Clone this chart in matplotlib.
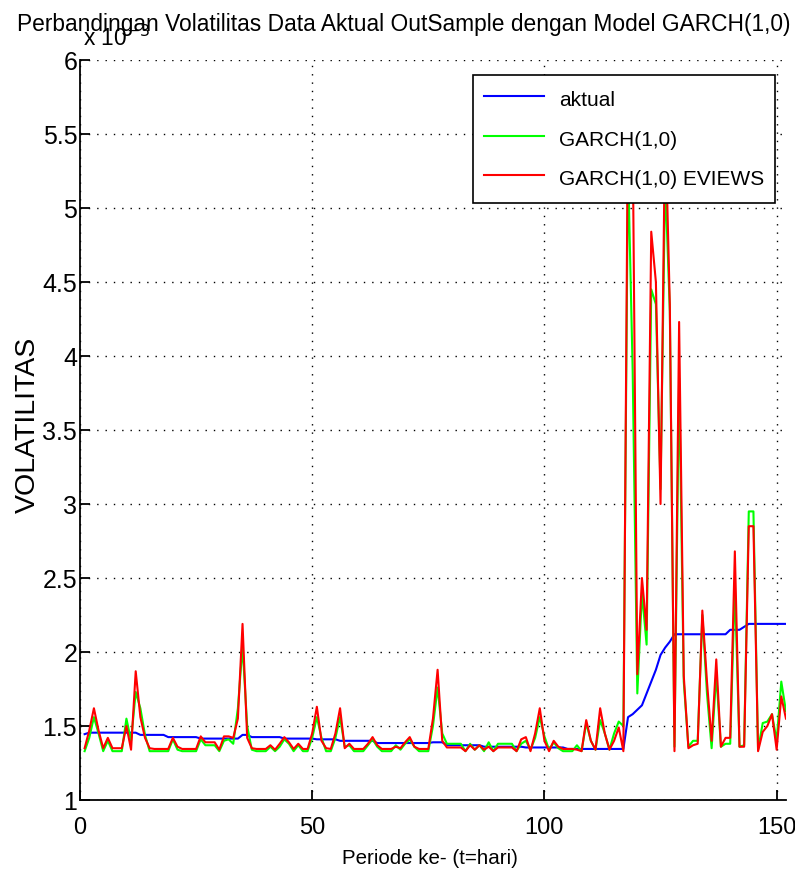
# Perbandingan volatilitas data aktual out-sample vs model GARCH(1,0)
import numpy as np
import matplotlib
matplotlib.use("Agg")
import matplotlib.pyplot as plt

# ------------------------------------------------------------
# Data (satuan x 10^-3)
# ------------------------------------------------------------
periode = np.arange(1, 153)

aktual = [
    1.445, 1.455, 1.455, 1.455, 1.455, 1.455, 1.455, 1.455, 1.455, 1.455,
    1.455, 1.455, 1.44, 1.44, 1.44, 1.44, 1.44, 1.44, 1.425, 1.425,
    1.425, 1.425, 1.425, 1.425, 1.425, 1.415, 1.415, 1.415, 1.415, 1.415,
    1.415, 1.415, 1.415, 1.415, 1.44, 1.44, 1.425, 1.425, 1.425, 1.425,
    1.425, 1.425, 1.425, 1.415, 1.415, 1.415, 1.415, 1.415, 1.415, 1.415,
    1.41, 1.41, 1.41, 1.41, 1.41, 1.40, 1.40, 1.40, 1.40, 1.40,
    1.40, 1.40, 1.40, 1.385, 1.385, 1.385, 1.385, 1.385, 1.385, 1.385,
    1.385, 1.385, 1.385, 1.385, 1.385, 1.39, 1.39, 1.39, 1.37, 1.37,
    1.37, 1.37, 1.37, 1.37, 1.37, 1.37, 1.36, 1.36, 1.36, 1.36,
    1.36, 1.36, 1.36, 1.36, 1.36, 1.355, 1.355, 1.355, 1.355, 1.355,
    1.355, 1.355, 1.355, 1.355, 1.345, 1.345, 1.345, 1.345, 1.345, 1.345,
    1.345, 1.345, 1.345, 1.345, 1.345, 1.345, 1.345, 1.56, 1.58, 1.61,
    1.64, 1.72, 1.80, 1.88, 1.98, 2.03, 2.07, 2.12, 2.12, 2.12,
    2.12, 2.12, 2.12, 2.12, 2.12, 2.12, 2.12, 2.12, 2.12, 2.15,
    2.15, 2.15, 2.17, 2.19, 2.19, 2.19, 2.19, 2.19, 2.19, 2.19,
    2.19, 2.19,
]

garch = [
    1.33, 1.42, 1.56, 1.45, 1.33, 1.40, 1.33, 1.33, 1.33, 1.55,
    1.40, 1.73, 1.62, 1.44, 1.33, 1.33, 1.33, 1.33, 1.33, 1.41,
    1.34, 1.33, 1.33, 1.33, 1.33, 1.41, 1.37, 1.37, 1.37, 1.33,
    1.40, 1.41, 1.38, 1.62, 2.04, 1.50, 1.34, 1.33, 1.33, 1.33,
    1.36, 1.33, 1.36, 1.41, 1.38, 1.33, 1.37, 1.33, 1.33, 1.42,
    1.56, 1.42, 1.33, 1.33, 1.42, 1.56, 1.36, 1.37, 1.33, 1.33,
    1.33, 1.37, 1.41, 1.36, 1.33, 1.33, 1.33, 1.37, 1.34, 1.38,
    1.41, 1.36, 1.33, 1.33, 1.33, 1.50, 1.76, 1.45, 1.38, 1.38,
    1.38, 1.38, 1.33, 1.38, 1.34, 1.37, 1.33, 1.39, 1.33, 1.38,
    1.38, 1.38, 1.38, 1.33, 1.38, 1.40, 1.34, 1.42, 1.56, 1.43,
    1.34, 1.39, 1.35, 1.33, 1.33, 1.33, 1.37, 1.33, 1.52, 1.40,
    1.34, 1.54, 1.45, 1.34, 1.45, 1.53, 1.50, 5.30, 3.90, 1.72,
    2.40, 2.05, 4.45, 4.35, 3.10, 5.20, 4.30, 1.36, 3.85, 1.80,
    1.36, 1.40, 1.40, 2.25, 1.72, 1.35, 1.85, 1.36, 1.38, 1.38,
    2.45, 1.36, 1.37, 2.95, 2.95, 1.34, 1.52, 1.53, 1.58, 1.40,
    1.80, 1.60,
]

eviews = [
    1.35, 1.47, 1.62, 1.47, 1.35, 1.42, 1.35, 1.35, 1.35, 1.50,
    1.34, 1.87, 1.56, 1.42, 1.35, 1.345, 1.345, 1.345, 1.345, 1.42,
    1.36, 1.345, 1.345, 1.345, 1.345, 1.43, 1.39, 1.39, 1.39, 1.34,
    1.43, 1.43, 1.42, 1.55, 2.19, 1.42, 1.35, 1.345, 1.345, 1.345,
    1.37, 1.34, 1.38, 1.425, 1.39, 1.345, 1.38, 1.345, 1.345, 1.45,
    1.63, 1.40, 1.35, 1.345, 1.45, 1.62, 1.35, 1.38, 1.345, 1.345,
    1.345, 1.38, 1.425, 1.37, 1.345, 1.345, 1.345, 1.36, 1.35, 1.39,
    1.425, 1.36, 1.345, 1.345, 1.345, 1.55, 1.88, 1.40, 1.355, 1.355,
    1.355, 1.355, 1.33, 1.37, 1.34, 1.37, 1.34, 1.36, 1.33, 1.355,
    1.355, 1.355, 1.355, 1.33, 1.41, 1.425, 1.33, 1.45, 1.62, 1.40,
    1.33, 1.40, 1.36, 1.345, 1.345, 1.345, 1.34, 1.33, 1.54, 1.40,
    1.34, 1.62, 1.45, 1.34, 1.40, 1.49, 1.33, 5.70, 5.50, 1.85,
    2.50, 2.15, 4.84, 4.50, 3.00, 5.60, 4.35, 1.33, 4.23, 1.84,
    1.35, 1.37, 1.38, 2.28, 1.80, 1.40, 1.95, 1.36, 1.42, 1.42,
    2.68, 1.36, 1.36, 2.85, 2.85, 1.33, 1.46, 1.50, 1.58, 1.34,
    1.70, 1.55,
]

# ------------------------------------------------------------
# Grafik
# ------------------------------------------------------------
plt.rcParams["font.family"] = ["Liberation Sans", "DejaVu Sans"]

fig = plt.figure(figsize=(7.95, 8.8), dpi=100)
ax = fig.add_axes([0.1006, 0.0909, 0.888, 0.8409])

ax.plot(periode, aktual, color=(0, 0, 1), lw=1.5, label="aktual")
ax.plot(periode, garch, color=(0, 1, 0), lw=1.5, label="GARCH(1,0)")
ax.plot(periode, eviews, color=(1, 0, 0), lw=1.5, label="GARCH(1,0) EVIEWS")

ax.set_xlim(0, 152)
ax.set_ylim(1, 6)
ax.set_xticks([0, 50, 100, 150])
ax.set_yticks([1, 1.5, 2, 2.5, 3, 3.5, 4, 4.5, 5, 5.5, 6])
ax.set_yticklabels(["1", "1.5", "2", "2.5", "3", "3.5", "4", "4.5", "5", "5.5", "6"])
ax.grid(True, color="black", linestyle=(0, (1, 5)), linewidth=1.0)

ax.spines["top"].set_visible(False)
ax.spines["right"].set_visible(False)
ax.spines["left"].set_linewidth(1.3)
ax.spines["bottom"].set_linewidth(1.3)
ax.tick_params(direction="in", length=7, width=1.3, labelsize=18, pad=2)
ax.tick_params(axis="x", labelsize=17, pad=12)

fig.text(430 / 795, 1 - 858 / 880, "Periode ke- (t=hari)",
         ha="center", va="center", fontsize=14.8)
fig.text(28 / 795, 1 - 425 / 880, "VOLATILITAS", rotation=90,
         ha="center", va="center", fontsize=20.5)

fig.text(404 / 795, 1 - 25 / 880,
         "Perbandingan Volatilitas Data Aktual OutSample dengan Model GARCH(1,0)",
         ha="center", va="center", fontsize=16.4)
fig.text(83 / 795, 1 - 46 / 880, r"x 10$^{-3}$", ha="left", va="baseline",
         fontsize=16.4)

leg = ax.legend(loc="upper right", bbox_to_anchor=(775 / 795, 1 - 75 / 880),
                bbox_transform=fig.transFigure, borderaxespad=0,
                fontsize=15, fancybox=False, edgecolor="black", framealpha=1,
                handlelength=2.9, handletextpad=0.72, borderpad=0.52,
                handleheight=1.6, labelspacing=0.62)
leg.get_frame().set_linewidth(1.2)

fig.savefig("out.png", dpi=100)
